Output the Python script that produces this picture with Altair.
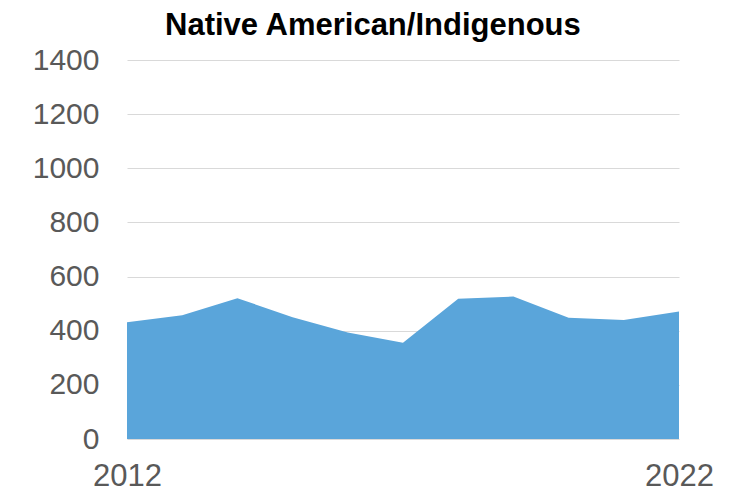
import altair as alt
import pandas as pd

years = [2012, 2013, 2014, 2015, 2016, 2017, 2018, 2019, 2020, 2021, 2022]
values = [431, 457, 520, 450, 393, 356, 518, 526, 448, 440, 471]

df = pd.DataFrame({"year": years, "value": values})

chart = alt.Chart(df).mark_area(color="#5AA5DA", opacity=1).encode(
    x=alt.X("year:Q", scale=alt.Scale(domain=[2012, 2022], nice=False, zero=False),
            axis=alt.Axis(values=[2012, 2022], format="d", title=None, grid=False,
                          domain=False, ticks=False, labelFontSize=31,
                          labelColor="#595959", labelFont="Liberation Sans",
                          labelPadding=22, labelFlush=False)),
    y=alt.Y("value:Q", scale=alt.Scale(domain=[0, 1400], nice=False),
            axis=alt.Axis(values=list(range(0, 1401, 200)), format="d", title=None,
                          domain=False, ticks=False, labelFontSize=30,
                          labelColor="#595959", labelFont="Liberation Sans",
                          labelPadding=28, gridColor="#D9D9D9", gridWidth=1)),
).properties(
    width=552,
    height=379,
    title=alt.TitleParams("Native American/Indigenous", fontSize=31,
                          font="Liberation Sans", fontWeight="bold", color="#000000",
                          anchor="middle", frame="bounds", offset=3),
    autosize=alt.AutoSizeParams(type="none"),
    padding={"left": 119, "top": 52, "right": 53, "bottom": 60},
).configure_view(stroke=None)

chart.save("out.html", embed_options={"renderer": "svg", "actions": False})
